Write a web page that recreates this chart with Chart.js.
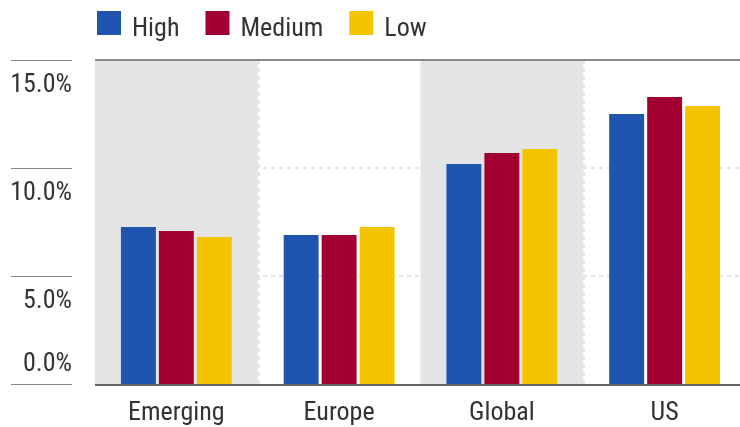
<!DOCTYPE html>
<html><head><meta charset="utf-8">
<script src="https://cdn.jsdelivr.net/npm/chart.js@4.4.1/dist/chart.umd.min.js"></script>
<style>html,body{margin:0;padding:0;background:#fff;overflow:hidden}#wrap{width:740px;height:427px;overflow:hidden}canvas{display:block}</style>
</head><body><div id="wrap"><canvas id="c" width="750" height="427"></canvas></div>
<script>
const categories = ['Emerging', 'Europe', 'Global', 'US'];
const seriesNames = ['High', 'Medium', 'Low'];
const highValues = [7.27, 6.90, 10.19, 12.50];
const mediumValues = [7.08, 6.90, 10.69, 13.29];
const lowValues = [6.81, 7.27, 10.88, 12.87];
const tickValues = [0, 5, 10, 15];
const tickLabels = ['0.0%', '5.0%', '10.0%', '15.0%'];
const shadedCategories = ['Emerging', 'Global'];
const seriesColors = ['#1f55ae', '#a30032', '#f5c400'];
const FONT = '"Liberation Sans Narrow", "Roboto Condensed", "DejaVu Sans Condensed", "Liberation Sans", sans-serif';

const decor = {
  id: 'decor',
  beforeDatasetsDraw(chart) {
    const { ctx, chartArea: a, scales: { x, y } } = chart;
    const half = (x.getPixelForValue(1) - x.getPixelForValue(0)) / 2;
    ctx.save();
    ctx.strokeStyle = '#e4e4e4'; ctx.lineWidth = 2; ctx.setLineDash([4, 4]);
    tickValues.forEach(v => {
      if (v === y.min || v === y.max) return;
      const py = Math.round(y.getPixelForValue(v));
      ctx.beginPath(); ctx.moveTo(a.left, py); ctx.lineTo(a.right, py); ctx.stroke();
    });
    ctx.setLineDash([]);
    ctx.fillStyle = '#e4e4e4';
    categories.forEach((c, i) => {
      if (shadedCategories.includes(c)) {
        const cx = x.getPixelForValue(i);
        ctx.fillRect(cx - half, a.top, 2 * half, a.bottom - a.top);
      }
    });
    ctx.setLineDash([4, 4]); ctx.strokeStyle = '#e4e4e4'; ctx.lineWidth = 2;
    for (let i = 0; i < categories.length - 1; i++) {
      const bx = Math.round(x.getPixelForValue(i) + half) + 1;
      ctx.beginPath(); ctx.moveTo(bx, a.top); ctx.lineTo(bx, a.bottom); ctx.stroke();
    }
    ctx.setLineDash([]);
    const ty = Math.round(y.getPixelForValue(y.max));
    ctx.strokeStyle = '#8a8a8a'; ctx.lineWidth = 2;
    ctx.beginPath(); ctx.moveTo(a.left, ty); ctx.lineTo(a.right, ty); ctx.stroke();
    ctx.restore();
  },
  afterDatasetsDraw(chart) {
    const { ctx, chartArea: a, scales: { y } } = chart;
    ctx.save();
    const by = Math.round(y.getPixelForValue(0)) + 1;
    ctx.strokeStyle = '#666'; ctx.lineWidth = 2;
    ctx.beginPath(); ctx.moveTo(a.left, by); ctx.lineTo(a.right, by); ctx.stroke();
    ctx.restore();
  },
  afterDraw(chart) {
    const { ctx, scales: { y } } = chart;
    ctx.save();
    ctx.font = '26px ' + FONT;
    ctx.fillStyle = '#333';
    ctx.textAlign = 'right';
    ctx.textBaseline = 'middle';
    tickValues.forEach((v, i) => {
      const py = Math.round(y.getPixelForValue(v)) + 0.5;
      ctx.strokeStyle = '#888'; ctx.lineWidth = 1;
      ctx.beginPath(); ctx.moveTo(11, py); ctx.lineTo(72, py); ctx.stroke();
      const ly = v === 0 ? py - 20 : py + 25;
      ctx.fillText(tickLabels[i], 72, ly);
    });
    ctx.font = '26px ' + FONT;
    ctx.textAlign = 'left';
    ctx.textBaseline = 'alphabetic';
    let lx = 97;
    chart.data.datasets.forEach(ds => {
      ctx.fillStyle = ds.backgroundColor;
      ctx.fillRect(lx, 11, 24, 24);
      ctx.fillStyle = '#333';
      ctx.fillText(ds.label, lx + 35, 36);
      lx += 35 + ctx.measureText(ds.label).width + 26;
    });
    ctx.restore();
  }
};

new Chart(document.getElementById('c'), {
  type: 'bar',
  data: {
    labels: categories,
    datasets: [highValues, mediumValues, lowValues].map((vals, i) => ({
      label: seriesNames[i],
      data: vals,
      backgroundColor: seriesColors[i],
      borderWidth: 0,
      categoryPercentage: 0.7,
      barPercentage: 0.92
    }))
  },
  options: {
    responsive: false,
    animation: false,
    devicePixelRatio: 1,
    layout: { padding: { left: 95, top: 60, right: 4, bottom: 0 } },
    plugins: { legend: { display: false }, tooltip: { enabled: false } },
    scales: {
      x: {
        grid: { display: false, drawTicks: false },
        border: { display: false },
        ticks: { color: '#333', font: { family: FONT, size: 26 }, padding: 14, maxRotation: 0, autoSkip: false },
        afterFit(s) { s.height = 43; }
      },
      y: { display: false, min: 0, max: 15 }
    }
  },
  plugins: [decor]
});
</script>
</body></html>
